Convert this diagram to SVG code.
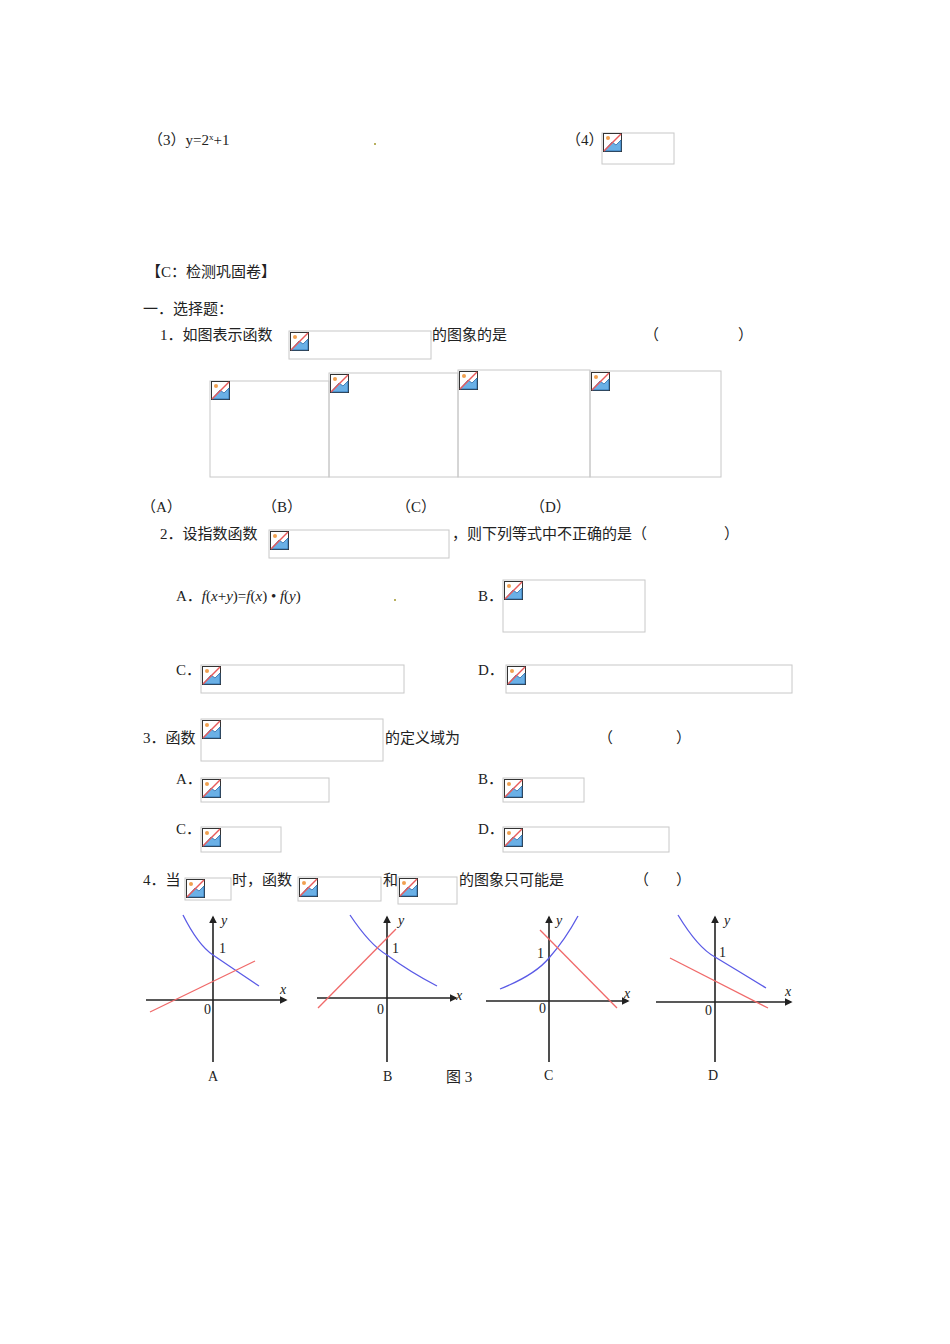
<svg xmlns="http://www.w3.org/2000/svg" xmlns:xlink="http://www.w3.org/1999/xlink" width="950" height="1344" viewBox="0 0 950 1344">
<style>
text{font-family:"Liberation Serif","Noto Sans CJK SC",serif;font-size:15px;fill:#222}
.bx{fill:none;stroke:#c8c8c8;stroke-width:1}
.ax{stroke:#222;stroke-width:1.6;fill:none}
.bl{stroke:#5a5ae6;stroke-width:1.3;fill:none}
.rd{stroke:#f06a6a;stroke-width:1.3;fill:none}
.gl{font-size:14px}
</style>
<defs>
<symbol id="ic" viewBox="0 0 19 19" width="19" height="19">
<rect x="0.5" y="0.5" width="18" height="18" fill="#fff" stroke="#333"/>
<circle cx="5" cy="5" r="2" fill="#f0a050"/>
<path d="M1 18 L9 9 L13 12 L18 7 L18 18 Z" fill="#6ab0e6" stroke="#2a6aa8" stroke-width="0.8"/>
<line x1="1" y1="18" x2="18" y2="1" stroke="#e85a5a" stroke-width="1.5"/>
</symbol>
<marker id="ar" viewBox="0 0 10 10" refX="8" refY="5" markerWidth="5" markerHeight="5" orient="auto"><path d="M0 0L10 5L0 10z" fill="#222"/></marker>
</defs>
<rect width="950" height="1344" fill="#fff"/>
<text x="148" y="145">（3）y=2<tspan font-size="9" dy="-5">x</tspan><tspan dy="5">+1</tspan></text>
<rect x="374" y="143" width="2" height="2" fill="#b8b060"/>
<text x="566" y="145">（4）</text>
<g id="img4"><rect class="bx" x="602" y="133" width="72" height="31"/><use href="#ic" x="603" y="133"/></g>
<text x="146" y="277">【C：检测巩固卷】</text>
<text x="143" y="314">一．选择题：</text>
<text x="160" y="340">1．如图表示函数</text>
<g id="q1"><rect class="bx" x="289" y="331" width="142" height="28"/><use href="#ic" x="290" y="332"/></g>
<text x="432" y="340">的图象的是</text>
<text x="644" y="340">（</text><text x="738" y="340">）</text>
<g id="q1a"><rect class="bx" x="210" y="381" width="119" height="96"/><use href="#ic" x="211" y="381"/></g>
<g id="q1b"><rect class="bx" x="329" y="373" width="129" height="104"/><use href="#ic" x="330" y="374"/></g>
<g id="q1c"><rect class="bx" x="458" y="370" width="132" height="107"/><use href="#ic" x="459" y="371"/></g>
<g id="q1d"><rect class="bx" x="590" y="371" width="131" height="106"/><use href="#ic" x="591" y="372"/></g>
<text x="141" y="512">（A）</text><text x="262" y="512">（B）</text><text x="396" y="512">（C）</text><text x="530" y="512">（D）</text>
<text x="160" y="539">2．设指数函数</text>
<g id="q2"><rect class="bx" x="269" y="530" width="180" height="28"/><use href="#ic" x="270" y="531"/></g>
<text x="452" y="539">，则下列等式中不正确的是（</text><text x="724" y="539">）</text>
<text x="176" y="601">A．<tspan font-style="italic">f</tspan>(<tspan font-style="italic">x</tspan>+<tspan font-style="italic">y</tspan>)=<tspan font-style="italic">f</tspan>(<tspan font-style="italic">x</tspan>) • <tspan font-style="italic">f</tspan>(<tspan font-style="italic">y</tspan>)</text>
<rect x="394" y="599" width="2" height="2" fill="#b8b060"/>
<text x="478" y="601">B．</text>
<g id="q2b"><rect class="bx" x="503" y="580" width="142" height="52"/><use href="#ic" x="504" y="581"/></g>
<text x="176" y="675">C．</text>
<g id="q2c"><rect class="bx" x="201" y="665" width="203" height="28"/><use href="#ic" x="202" y="666"/></g>
<text x="478" y="675">D．</text>
<g id="q2d"><rect class="bx" x="506" y="665" width="286" height="28"/><use href="#ic" x="507" y="666"/></g>
<text x="143" y="743">3．函数</text>
<g id="q3"><rect class="bx" x="201" y="719" width="182" height="42"/><use href="#ic" x="202" y="720"/></g>
<text x="385" y="743">的定义域为</text>
<text x="598" y="743">（</text><text x="676" y="743">）</text>
<text x="176" y="784">A．</text>
<g id="q3a"><rect class="bx" x="201" y="778" width="128" height="24"/><use href="#ic" x="202" y="779"/></g>
<text x="478" y="784">B．</text>
<g id="q3b"><rect class="bx" x="503" y="778" width="81" height="24"/><use href="#ic" x="504" y="779"/></g>
<text x="176" y="834">C．</text>
<g id="q3c"><rect class="bx" x="201" y="827" width="80" height="25"/><use href="#ic" x="202" y="828"/></g>
<text x="478" y="834">D．</text>
<g id="q3d"><rect class="bx" x="503" y="827" width="166" height="25"/><use href="#ic" x="504" y="828"/></g>
<text x="143" y="885">4．当</text>
<g id="q4a"><rect class="bx" x="185" y="878" width="46" height="22"/><use href="#ic" x="186" y="879"/></g>
<text x="232" y="885">时，函数</text>
<g id="q4b"><rect class="bx" x="298" y="877" width="83" height="24"/><use href="#ic" x="299" y="878"/></g>
<text x="383" y="885">和</text>
<g id="q4c"><rect class="bx" x="398" y="877" width="59" height="27"/><use href="#ic" x="399" y="878"/></g>
<text x="459" y="885">的图象只可能是</text>
<text x="634" y="885">（</text><text x="676" y="885">）</text>
<g id="graphs">
<g id="gA">
<line class="ax" x1="213" y1="1062" x2="213" y2="917" marker-end="url(#ar)"/>
<line class="ax" x1="146" y1="1000" x2="286" y2="1000" marker-end="url(#ar)"/>
<path class="bl" d="M183 915 Q198 945 213 955 Q235 970 259 986"/>
<line class="rd" x1="150" y1="1012" x2="255" y2="961"/>
<text class="gl" x="219" y="953">1</text><text class="gl" x="204" y="1014">0</text>
<text class="gl" x="280" y="994" font-style="italic">x</text><text class="gl" x="221" y="925" font-style="italic">y</text>
<text class="gl" x="208" y="1081">A</text>
</g>
<g id="gB">
<line class="ax" x1="387" y1="1062" x2="387" y2="917" marker-end="url(#ar)"/>
<line class="ax" x1="317" y1="998" x2="456" y2="998" marker-end="url(#ar)"/>
<path class="bl" d="M350 915 Q370 945 387 955 Q410 972 437 986"/>
<line class="rd" x1="318" y1="1008" x2="396" y2="929"/>
<text class="gl" x="392" y="953">1</text><text class="gl" x="377" y="1014">0</text>
<text class="gl" x="456" y="1000" font-style="italic">x</text><text class="gl" x="398" y="925" font-style="italic">y</text>
<text class="gl" x="383" y="1081">B</text>
<text x="446" y="1082">图 3</text>
</g>
<g id="gC">
<line class="ax" x1="549" y1="1062" x2="549" y2="917" marker-end="url(#ar)"/>
<line class="ax" x1="486" y1="1001" x2="628" y2="1001" marker-end="url(#ar)"/>
<path class="bl" d="M500 989 Q535 975 549 958 Q565 940 578 916"/>
<line class="rd" x1="540" y1="930" x2="617" y2="1008"/>
<text class="gl" x="537" y="958">1</text><text class="gl" x="539" y="1013">0</text>
<text class="gl" x="624" y="998" font-style="italic">x</text><text class="gl" x="556" y="925" font-style="italic">y</text>
<text class="gl" x="544" y="1080">C</text>
</g>
<g id="gD">
<line class="ax" x1="715" y1="1062" x2="715" y2="917" marker-end="url(#ar)"/>
<line class="ax" x1="656" y1="1002" x2="791" y2="1002" marker-end="url(#ar)"/>
<path class="bl" d="M678 915 Q698 948 715 957 Q740 972 766 988"/>
<line class="rd" x1="670" y1="958" x2="768" y2="1008"/>
<text class="gl" x="719" y="957">1</text><text class="gl" x="705" y="1015">0</text>
<text class="gl" x="785" y="996" font-style="italic">x</text><text class="gl" x="724" y="925" font-style="italic">y</text>
<text class="gl" x="708" y="1080">D</text>
</g>
</g>
</svg>
